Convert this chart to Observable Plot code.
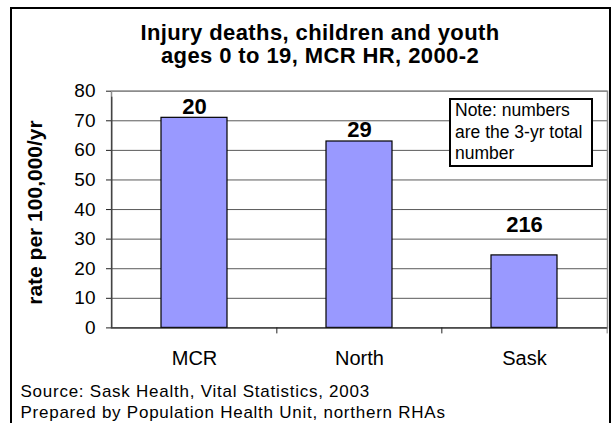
<!DOCTYPE html>
<html>
<head>
<meta charset="utf-8">
<script src="https://cdn.jsdelivr.net/npm/d3@7"></script>
<script src="https://cdn.jsdelivr.net/npm/@observablehq/plot@0.6"></script>
<style>
  html, body { margin: 0; padding: 0; background: #fff; }
  body { position: relative; width: 613px; height: 423px; overflow: hidden;
         font-family: "Liberation Sans", Arial, sans-serif; color: #000; }
  #frame { position: absolute; left: 10px; top: 7px; width: 597px; height: 430px;
           border: 2px solid #000; box-sizing: content-box; }
  #title { position: absolute; left: 0; top: 22px; width: 640px; text-align: center;
           font-weight: bold; font-size: 22px; line-height: 22.6px; letter-spacing: 0.4px; }
  #chart { position: absolute; left: 0; top: 80px; }
  #note { position: absolute; left: 449px; top: 98px; width: 136px; height: 65px;
          border: 2px solid #000; background: #fff; font-size: 17.5px; line-height: 21.5px;
          padding-left: 4px; box-sizing: content-box; }
  #source { position: absolute; left: 20.5px; top: 381px; font-size: 17px; line-height: 21px;
            letter-spacing: 0.75px; white-space: nowrap; }
</style>
</head>
<body>
<div id="frame"></div>
<div id="title">Injury deaths, children and youth<br>ages 0 to 19, MCR HR, 2000-2</div>
<div id="chart"></div>
<div id="note">Note: numbers<br>are the 3-yr total<br>number</div>
<div id="source">Source: Sask Health, Vital Statistics, 2003<br>Prepared by Population Health Unit, northern RHAs</div>
<script>
// Injury death rates per 100,000 per year, ages 0-19, 2000-2002
const categories = ["MCR", "North", "Sask"];
const rates = [71, 63, 24.5];
// 3-year total number of deaths, printed above each bar
const counts = [20, 29, 216];
const yTicks = [0, 10, 20, 30, 40, 50, 60, 70, 80];
const yLabel = "rate per 100,000/yr";

const data = categories.map((region, i) => ({region, rate: rates[i], count: counts[i]}));

const W = 613, H = 300;
const mL = 111, mR = 6, mT = 10.7, mB = 52.6;
const padInner = 0.6, padOuter = 0.3;
// width of one category step, used to place the separator ticks between bands
const step = (W - mL - mR) / (categories.length - padInner + 2 * padOuter);

const font = "'Liberation Sans', Arial, sans-serif";

const chart = Plot.plot({
  width: W,
  height: H,
  marginLeft: mL,
  marginRight: mR,
  marginTop: mT,
  marginBottom: mB,
  style: {fontFamily: font, background: "transparent", color: "#000", overflow: "visible"},
  x: {domain: categories, paddingInner: padInner, paddingOuter: padOuter},
  y: {domain: [0, 80]},
  marks: [
    Plot.gridY(yTicks, {stroke: "#5a5a5a", strokeOpacity: 1}),
    Plot.frame({stroke: "#8c8c8c", strokeWidth: 1.5}),
    Plot.barY(data, {x: "region", y: "rate", fill: "#9999ff", stroke: "#000", strokeWidth: 1.2}),
    Plot.ruleY([0], {stroke: "#222"}),
    // vertical axis line, extended below the baseline as the first separator tick
    Plot.ruleX([categories[0]], {dx: -step / 2, y1: 0, y2: 80, insetBottom: -6, stroke: "#222"}),
    // separator ticks between the categories and at the right end
    Plot.ruleX(categories.slice(1), {dx: -step / 2, y1: 0, y2: 0, insetBottom: -6, stroke: "#222"}),
    Plot.ruleX(categories.slice(-1), {dx: step / 2, y1: 0, y2: 0, insetBottom: -6, stroke: "#777"}),
    Plot.axisY({ticks: yTicks, tickSize: 5, tickPadding: 11, fontSize: 19, label: null,
                stroke: "#222", style: {letterSpacing: "0.6px"}}),
    Plot.axisX({tickSize: 0, tickPadding: 23, fontSize: 20, label: null,
                style: {letterSpacing: "1.2px"}}),
    Plot.text([yLabel], {frameAnchor: "left", text: d => d, rotate: -90, dx: -76, dy: 3,
                         fontSize: 21, fontWeight: "bold", textAnchor: "middle", lineAnchor: "middle",
                         style: {letterSpacing: "0.6px"}}),
    Plot.text(data.filter(d => d.region !== "Sask"),
              {x: "region", y: "rate", text: d => String(d.count), lineAnchor: "bottom",
               dy: -4, fontSize: 22, fontWeight: "bold"}),
    Plot.text(data.filter(d => d.region === "Sask"),
              {x: "region", y: "rate", text: d => String(d.count), lineAnchor: "bottom",
               dy: -23, fontSize: 22, fontWeight: "bold"})
  ]
});

document.getElementById("chart").appendChild(chart);
</script>
</body>
</html>
